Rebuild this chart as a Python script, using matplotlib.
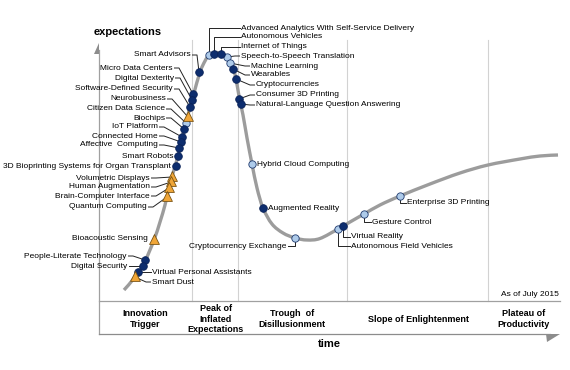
import numpy as np
import matplotlib.pyplot as plt
from matplotlib.path import Path
from matplotlib.patches import PathPatch, Polygon

# hype curve knots (time, expectations in pixel units)
curve_t = [124, 135, 145, 154, 160, 165, 169, 173, 178, 182, 186, 190, 194, 200,
           205, 209, 215, 221, 227, 233, 236, 239, 243, 247, 252, 257, 263, 272,
           283, 295, 307, 320, 338, 350, 364, 380, 400, 430, 460, 488, 520, 540, 558]
curve_e = [290, 277, 261, 240, 222, 205, 188, 173, 156, 138, 123, 107, 93, 72,
           61, 55, 52.5, 53.5, 57, 68, 79, 96, 115, 138, 164, 188, 208, 224,
           233, 238, 240, 238.5, 229, 222, 214, 205, 196, 184, 173, 165, 159, 156, 155]

names = ["Smart Advisors", "Micro Data Centers", "Digital Dexterity",
         "Software-Defined Security", "Neurobusiness", "Citizen Data Science",
         "Biochips", "IoT Platform", "Connected Home", "Affective  Computing",
         "Smart Robots", "3D Bioprinting Systems for Organ Transplant",
         "Volumetric Displays", "Human Augmentation", "Brain-Computer Interface",
         "Quantum Computing", "Bioacoustic Sensing", "People-Literate Technology",
         "Digital Security", "Virtual Personal Assistants", "Smart Dust",
         "Advanced Analytics With Self-Service Delivery", "Autonomous Vehicles",
         "Internet of Things", "Speech-to-Speech Translation", "Machine Learning",
         "Wearables", "Cryptocurrencies", "Consumer 3D Printing",
         "Natural-Language Question Answering", "Hybrid Cloud Computing",
         "Augmented Reality", "Cryptocurrency Exchange", "Virtual Reality",
         "Autonomous Field Vehicles", "Gesture Control", "Enterprise 3D Printing"]
point_t = [199, 193, 192, 190, 188, 186, 184, 182, 181, 179, 178, 176, 172, 171, 169,
           167, 154, 145, 143, 138, 135, 209, 214, 221, 227, 230, 233, 236, 239, 241,
           252, 263, 295, 343, 338, 364, 400]
point_e = [72, 94, 100, 107, 117, 123, 129, 137, 142, 148, 156, 166, 177, 182, 188,
           197, 240, 260, 266, 272, 277, 55, 54, 54, 57, 63, 69, 79, 99, 104,
           164, 208, 238, 226, 229, 214, 196]
# 0 = 2 to 5 years, 1 = 5 to 10 years, 2 = more than 10 years
maturity = [1, 1, 1, 1, 2, 0, 1, 1, 1, 1, 1, 1, 2, 2, 2,
            2, 2, 1, 1, 1, 2, 0, 1, 1, 0, 0, 1, 1, 1, 1,
            0, 1, 0, 1, 0, 0, 0]

# label layout
label_x = [191, 173, 174, 173, 166, 165, 165, 158, 158, 158, 173, 171, 150, 150, 150,
           147, 148, 127, 127, 152, 152, 241, 241, 241, 241, 251, 251, 256, 256, 256,
           257, 268, 286, 351, 351, 372, 407]
label_y = [55, 68, 78, 89, 99, 109, 118, 127, 136, 145, 156, 166, 178, 187, 196,
           207, 239, 256, 266, 272, 282, 28, 37, 47, 56, 66, 75, 85, 95, 105,
           164, 208, 246, 237, 246, 222, 203]
leader = ["dash"] * 10 + ["none", "none"] + ["dash"] * 4 + ["none"] + ["dash"] * 4 + \
         ["elbow"] * 3 + ["dash"] * 6 + ["none", "none"] + ["elbow"] * 5
right_side = [False] * 19 + [True] * 13 + [False] + [True] * 4

phases = ["Innovation\nTrigger", "Peak of\nInflated\nExpectations",
          "Trough  of\nDisillusionment", "Slope of Enlightenment",
          "Plateau of\nProductivity"]
phase_x = [145, 216, 292, 418, 524]
phase_edges = [192, 238, 347, 488]

plt.rcParams['font.family'] = ['Liberation Sans', 'DejaVu Sans']

fig = plt.figure(figsize=(5.7, 3.7), dpi=100)
ax = fig.add_axes([0, 0, 1, 1])
ax.set_xlim(0, 570)
ax.set_ylim(370, 0)
ax.axis('off')

# phase separators and frame
for x in phase_edges:
    ax.plot([x, x], [40, 301], color='#d2d2d2', lw=0.8, zorder=1)
ax.plot([99, 99], [50, 334], color='#a0a0a0', lw=0.9, zorder=1)
ax.plot([99, 560], [301, 301], color='#a0a0a0', lw=0.9, zorder=1)
ax.plot([99, 550], [334, 334], color='#8c8c8c', lw=0.9, zorder=1)
ax.add_patch(Polygon([(99, 43), (99, 54), (94, 54)], closed=True,
                     color='#8c8c8c', lw=0, zorder=2))
ax.add_patch(Polygon([(546, 334), (560, 334), (547, 342)], closed=True,
                     color='#8c8c8c', lw=0, zorder=2))

# hype curve as Catmull-Rom bezier path
pts = np.column_stack([curve_t, curve_e]).astype(float)
ext = np.vstack([pts[0], pts, pts[-1]])
verts = [tuple(pts[0])]
codes = [Path.MOVETO]
for i in range(1, len(ext) - 2):
    p0, p1, p2, p3 = ext[i - 1], ext[i], ext[i + 1], ext[i + 2]
    verts += [tuple(p1 + (p2 - p0) / 6), tuple(p2 - (p3 - p1) / 6), tuple(p2)]
    codes += [Path.CURVE4] * 3
ax.add_patch(PathPatch(Path(verts, codes), fill=False, edgecolor='#9c9c9c',
                       lw=2.4, capstyle='butt', zorder=2))

# leaders and labels
for i, name in enumerate(names):
    px, py, lx, ly = point_t[i], point_e[i], label_x[i], label_y[i]
    s = 1 if right_side[i] else -1
    if leader[i] == "dash":
        xs = [px, lx - s * 6, lx - s * 1.5]
        ys = [py, ly, ly]
    elif leader[i] == "elbow":
        xs = [px, px, lx - s * 1.5]
        ys = [py, ly, ly]
    else:
        xs, ys = [], []
    if xs:
        ax.plot(xs, ys, color='#222222', lw=0.7, zorder=3)
    ax.text(lx, ly, name, fontsize=6, color='#000000',
            ha='left' if right_side[i] else 'right', va='center', zorder=5)

# markers
mt = np.array(point_t)
me = np.array(point_e)
mm = np.array(maturity)
ax.scatter(mt[mm == 0], me[mm == 0], s=28, c='#aecbea', edgecolors='#1f3a6e',
           linewidths=0.6, zorder=4)
ax.scatter(mt[mm == 1], me[mm == 1], s=30, c='#0d2d6e', edgecolors='#0a2258',
           linewidths=0.6, zorder=4)
ax.scatter(mt[mm == 2], me[mm == 2] - 1, s=50, marker='^', c='#f0a638',
           edgecolors='#7a5414', linewidths=0.6, zorder=4)

# headings
ax.text(94, 32, "expectations", fontsize=8, fontweight='bold', ha='left', va='center')
ax.text(329, 344, "time", fontsize=8, fontweight='bold', ha='center', va='center')
ax.text(559, 294, "As of July 2015", fontsize=6, ha='right', va='center', color='#000000')
for x, lab in zip(phase_x, phases):
    ax.text(x, 319, lab, fontsize=6.5, fontweight='bold', ha='center', va='center',
            linespacing=1.15, color='#000000')

fig.savefig("out.png", dpi=100)
